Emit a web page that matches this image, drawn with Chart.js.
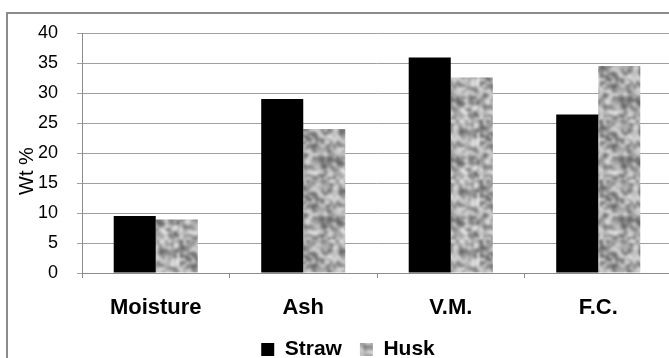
<!DOCTYPE html>
<html>
<head>
<meta charset="utf-8">
<script src="https://cdn.jsdelivr.net/npm/chart.js@4/dist/chart.umd.min.js"></script>
<style>
  html, body { margin: 0; padding: 0; background: #fff; overflow: hidden; width: 669px; height: 358px; }
  #frame { position: absolute; left: 6px; top: 12px; width: 720px; height: 400px; border: 2px solid #8c8c8c; }
  #wrap { position: absolute; left: 0; top: 0; width: 690px; height: 370px; }
</style>
</head>
<body>
<div id="frame"></div>
<div id="wrap"><canvas id="chart"></canvas></div>
<script>
// データ
const categories = ['Moisture', 'Ash', 'V.M.', 'F.C.'];
const strawValues = [9.5, 29.0, 35.9, 26.4];
const huskValues = [8.9, 24.0, 32.6, 34.5];
const seriesNames = ['Straw', 'Husk'];
const yTitle = 'Wt %';

const FONT = "'Liberation Sans', Arial, sans-serif";

// Husk用のざらざらしたグレーの模様を作る（固定のハッシュで）
function makeHuskPattern() {
    const cells = 20;
    const size = 60;
    const raw = document.createElement('canvas');
    raw.width = cells; raw.height = cells;
    const rc = raw.getContext('2d');
    for (let y = 0; y < cells; y++) {
        for (let x = 0; x < cells; x++) {
            const h = Math.sin(x * 12.9898 + y * 78.233) * 43758.5453;
            const v = h - Math.floor(h);
            const g = Math.round(80 + v * 170);
            rc.fillStyle = `rgb(${g},${g},${g})`;
            rc.fillRect(x, y, 1, 1);
        }
    }
    const tile = document.createElement('canvas');
    tile.width = size; tile.height = size;
    const tc = tile.getContext('2d');
    tc.fillStyle = '#b8b8b8';
    tc.fillRect(0, 0, size, size);
    tc.imageSmoothingEnabled = true;
    tc.filter = 'blur(1.4px)';
    // 端がつながるように周りにも描く
    for (let dx = -1; dx <= 1; dx++) {
        for (let dy = -1; dy <= 1; dy++) {
            tc.drawImage(raw, dx * size, dy * size, size, size);
        }
    }
    return tc.createPattern(tile, 'repeat');
}

const ctx = document.getElementById('chart').getContext('2d');
const huskPattern = makeHuskPattern();

// 縦軸タイトルを少し下寄りに描く
const yTitlePlugin = {
    id: 'yTitle',
    afterDraw(chart) {
        const c = chart.ctx;
        c.save();
        c.translate(27, 171);
        c.rotate(-Math.PI / 2);
        c.font = `20px ${FONT}`;
        c.fillStyle = '#000';
        c.textAlign = 'center';
        c.textBaseline = 'middle';
        c.fillText(yTitle, 0, 0);
        c.restore();
    }
};

new Chart(ctx, {
    type: 'bar',
    data: {
        labels: categories,
        datasets: [
            { label: seriesNames[0], data: strawValues, backgroundColor: '#000000', borderWidth: 0 },
            { label: seriesNames[1], data: huskValues, backgroundColor: huskPattern, borderWidth: 0 }
        ]
    },
    options: {
        responsive: true,
        maintainAspectRatio: false,
        animation: false,
        categoryPercentage: 0.57,
        barPercentage: 1.0,
        layout: { padding: { left: 24, right: 18, top: 33, bottom: 0 } },
        plugins: {
            legend: {
                position: 'bottom',
                labels: {
                    boxWidth: 13,
                    boxHeight: 13,
                    padding: 18,
                    color: '#000',
                    font: { family: FONT, size: 21, weight: 'bold' }
                }
            },
            tooltip: { enabled: false }
        },
        scales: {
            x: {
                afterFit(scale) { scale.height = 48; },
                grid: { display: true, drawOnChartArea: false, tickLength: 5, color: '#8c8c8c' },
                border: { color: '#8c8c8c', width: 1 },
                ticks: { color: '#000', padding: 17, font: { family: FONT, size: 22, weight: 'bold' } }
            },
            y: {
                afterFit(scale) { scale.width = 58; },
                min: 0,
                max: 40,
                grid: { color: '#a0a0a0', tickLength: 5 },
                border: { color: '#8c8c8c', width: 1 },
                ticks: { stepSize: 5, color: '#000', padding: 19, font: { family: FONT, size: 18 } }
            }
        }
    },
    plugins: [yTitlePlugin]
});
</script>
</body>
</html>
